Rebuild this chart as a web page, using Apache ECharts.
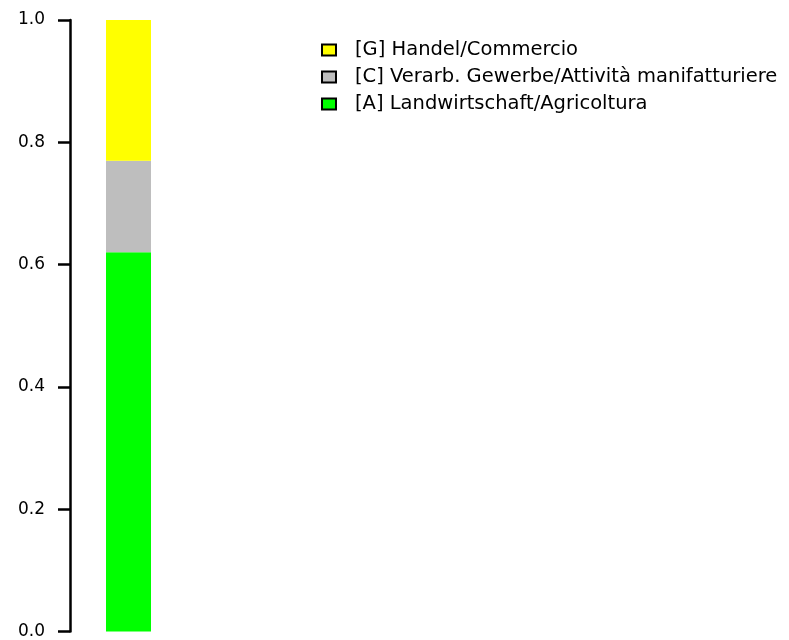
<!DOCTYPE html>
<html>
<head>
<meta charset="utf-8">
<script src="https://cdn.jsdelivr.net/npm/echarts@6/dist/echarts.min.js"></script>
<style>html,body{margin:0;padding:0;background:#fff}#c{width:789px;height:640px}</style>
</head>
<body>
<div id="c"></div>
<script>
const categories = ['1'];
const seriesNames = ['[A] Landwirtschaft/Agricoltura', '[C] Verarb. Gewerbe/Attività manifatturiere', '[G] Handel/Commercio'];
const seriesColors = ['#00ff00', '#bebebe', '#ffff00'];
const seriesValues = [[0.62], [0.15], [0.23]];
const yTicks = [0, 0.2, 0.4, 0.6, 0.8, 1.0];

const font = 'DejaVu Sans';
const chart = echarts.init(document.getElementById('c'), null, {renderer: 'canvas'});
chart.setOption({
  animation: false,
  backgroundColor: '#ffffff',
  grid: {left: 70, top: 20, bottom: 7, width: 117, containLabel: false},
  xAxis: {type: 'category', data: categories, show: false},
  yAxis: {
    type: 'value', min: yTicks[0], max: yTicks[yTicks.length - 1], interval: 0.2,
    axisLine: {show: true, lineStyle: {color: '#000', width: 2.5}},
    axisTick: {show: true, inside: false, length: 12, lineStyle: {color: '#000', width: 2.5}},
    splitLine: {show: false},
    axisLabel: {margin: 25, color: '#000', fontSize: 17, fontFamily: font,
      formatter: v => v.toFixed(1)}
  },
  legend: {
    orient: 'vertical', left: 316, top: 35,
    itemWidth: 14, itemHeight: 11, itemGap: 7,
    data: [seriesNames[2], seriesNames[1], seriesNames[0]],
    textStyle: {color: '#000', fontSize: 19.5, fontFamily: font, lineHeight: 18, padding: [0, 0, 0, 14]},
    icon: 'rect',
    itemStyle: {borderColor: '#000', borderWidth: 2}
  },
  series: seriesNames.map((n, i) => ({
    name: n, type: 'bar', stack: 's', barWidth: 45,
    data: seriesValues[i],
    itemStyle: {color: seriesColors[i], borderWidth: 0},
    emphasis: {disabled: true}
  }))
});
</script>
</body>
</html>
